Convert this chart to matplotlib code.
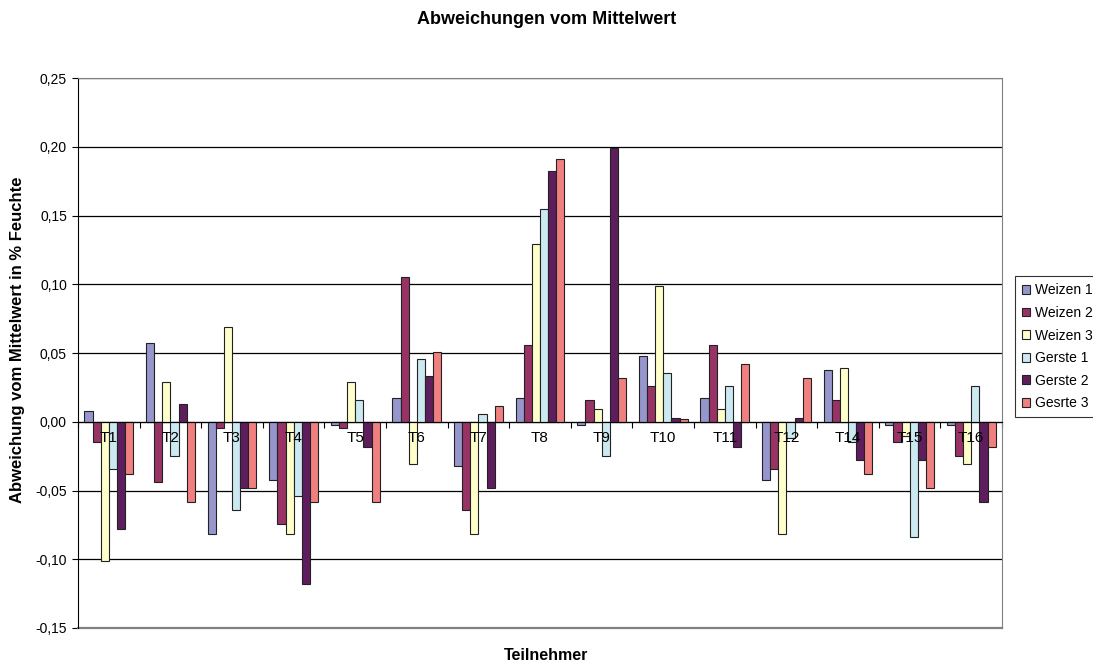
import numpy as np
import matplotlib.pyplot as plt
from matplotlib.ticker import FuncFormatter, MultipleLocator

plt.rcParams['font.family'] = ['Liberation Sans', 'DejaVu Sans']

teilnehmer = ['T1', 'T2', 'T3', 'T4', 'T5', 'T6', 'T7', 'T8', 'T9', 'T10',
              'T11', 'T12', 'T14', 'T15', 'T16']

weizen1 = [0.0075, 0.057, -0.082, -0.0425, -0.002, 0.0175, -0.0325, 0.0175,
           -0.002, 0.048, 0.0175, -0.0425, 0.038, -0.002, -0.002]
weizen2 = [-0.0145, -0.044, -0.0045, -0.0745, -0.0045, 0.1055, -0.0645, 0.0555,
           0.016, 0.026, 0.0555, -0.034, 0.016, -0.0145, -0.025]
weizen3 = [-0.101, 0.029, 0.069, -0.0815, 0.029, -0.031, -0.0815, 0.129,
           0.0093, 0.099, 0.0093, -0.0815, 0.0388, -0.010, -0.031]
gerste1 = [-0.034, -0.025, -0.0645, -0.054, 0.016, 0.0455, 0.006, 0.155,
           -0.025, 0.0355, 0.026, -0.012, -0.015, -0.084, 0.026]
gerste2 = [-0.078, 0.0128, -0.048, -0.118, -0.018, 0.033, -0.048, 0.1825,
           0.199, 0.0025, -0.018, 0.0025, -0.0275, -0.0275, -0.058]
gerste3 = [-0.038, -0.0585, -0.0485, -0.0585, -0.0585, 0.051, 0.0118, 0.1915,
           0.032, 0.0018, 0.042, 0.032, -0.038, -0.0485, -0.018]

serien = ['Weizen 1', 'Weizen 2', 'Weizen 3', 'Gerste 1', 'Gerste 2', 'Gesrte 3']
farben = ['#9696CC', '#993366', '#FFFFCC', '#CCE8F0', '#5E1E5E', '#F08080']
werte = [weizen1, weizen2, weizen3, gerste1, gerste2, gerste3]

fig = plt.figure(figsize=(10.93, 6.62), dpi=100)
ax = fig.add_axes([0.0714, 0.0514, 0.8454, 0.8306])

x = np.arange(len(teilnehmer))
w = 0.132
for i, (name, vals, c) in enumerate(zip(serien, werte, farben)):
    ax.bar(x + (i - 2.5) * w, vals, w, color=c, edgecolor='#222222',
           linewidth=0.8, label=name, zorder=3)

ax.set_xlim(-0.5, len(teilnehmer) - 0.5)
ax.set_ylim(-0.15, 0.25)
ax.yaxis.set_major_locator(MultipleLocator(0.05))
ax.yaxis.set_major_formatter(FuncFormatter(lambda v, p: f'{v:.2f}'.replace('.', ',')))
ax.yaxis.grid(True, color='black', linewidth=0.9, zorder=1)
ax.set_axisbelow(True)
ax.tick_params(axis='y', direction='out', length=4, labelsize=10, pad=4)

# x axis sits on the zero line, ticks between groups
ax.spines['bottom'].set_position(('data', 0))
ax.spines['bottom'].set_zorder(4)
ax.set_xticks(np.arange(-0.5, len(teilnehmer), 1.0))
ax.set_xticklabels([])
ax.tick_params(axis='x', direction='out', length=4, width=0.8)
ax.spines['top'].set_color('#808080')
ax.spines['right'].set_color('#808080')
ax.axhline(-0.15, color='#808080', linewidth=1.6, clip_on=False, zorder=2)

for xi, lab in zip(x, teilnehmer):
    ax.annotate(lab, (xi, 0), xytext=(0, -7), textcoords='offset points',
                ha='center', va='top', fontsize=11, zorder=6)

fig.text(0.5, 1 - 20 / 662, 'Abweichungen vom Mittelwert', ha='center',
         va='center', fontsize=13, fontweight='bold')
fig.text(18 / 1093, 1 - 340 / 662, 'Abweichung vom Mittelwert in % Feuchte',
         rotation=90, ha='center', va='center', fontsize=12, fontweight='bold')
fig.text(0.5, 1 - 655 / 662, 'Teilnehmer', ha='center', va='center',
         fontsize=11.5, fontweight='bold')

leg = fig.legend(loc='center left', bbox_to_anchor=(0.9287, 0.476), fontsize=10,
                 frameon=True, fancybox=False, edgecolor='black',
                 handlelength=0.6, handleheight=0.6, handletextpad=0.3,
                 borderpad=0.5, labelspacing=0.62, borderaxespad=0)
leg.get_frame().set_linewidth(0.8)

fig.savefig('out.png', dpi=100)
